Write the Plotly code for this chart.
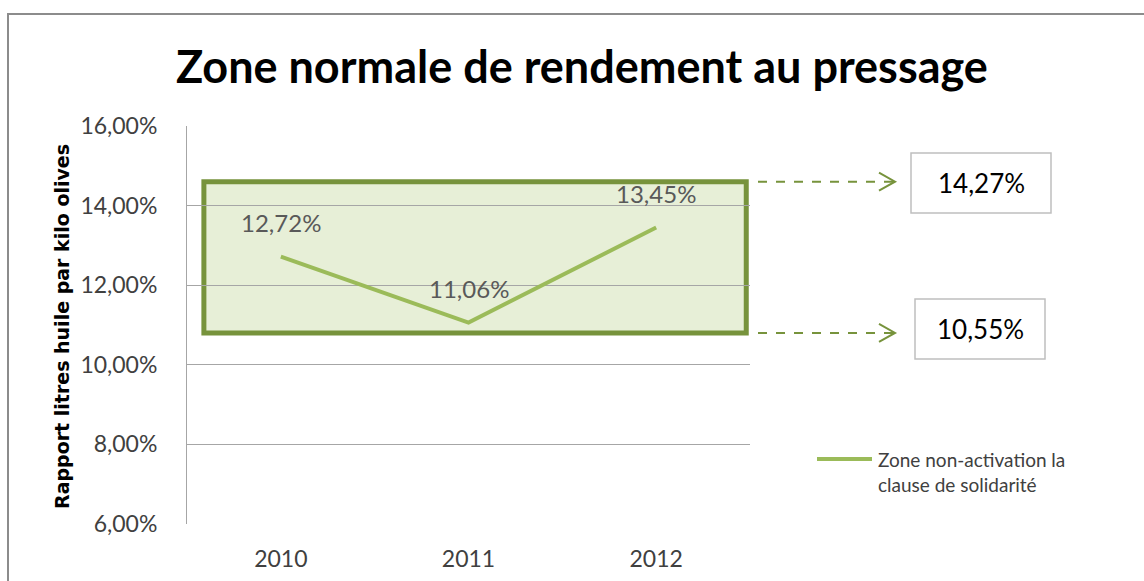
import plotly.graph_objects as go

years = ["2010", "2011", "2012"]
ratios = [12.72, 11.06, 13.45]
ratio_labels = ["12,72%", "11,06%", "13,45%"]
y_ticks = [6, 8, 10, 12, 14, 16]
y_tick_labels = ["6,00%", "8,00%", "10,00%", "12,00%", "14,00%", "16,00%"]
zone_labels = ["14,27%", "10,55%"]
zone_box_y = [14.6, 10.8]  # visual position of the drawn zone edges
series_name = "Zone non-activation la<br>clause de solidarité"

W, H = 1144, 581
L, R, T, B = 187, 750, 126, 524


def px(x):
    return (x - L) / (R - L)


def py(y):
    return (B - y) / (B - T)


FONT = "Lato"
LINE_COLOR = "#9BBB59"
fig = go.Figure()
fig.add_trace(go.Scatter(
    x=[0, 1, 2], y=ratios, mode="lines", name=series_name,
    line=dict(color=LINE_COLOR, width=4), showlegend=False,
))

shapes = []
annotations = []
for i, (v, t) in enumerate(zip(ratios, ratio_labels)):
    annotations.append(dict(xref="x", yref="y", x=i, y=v, text=t, showarrow=False,
                            xanchor="center", yanchor="middle", yshift=34,
                            font=dict(family=FONT, size=24, color="#595959")))

shapes.append(dict(type="rect", xref="paper", yref="paper",
                   x0=px(8), x1=px(1160), y0=py(14), y1=py(600),
                   line=dict(color="#8C8C8C", width=2), layer="below"))
shapes.append(dict(type="rect", xref="x", yref="y",
                   x0=-0.41, x1=2.48, y0=zone_box_y[1], y1=zone_box_y[0],
                   line=dict(color="#77933C", width=5),
                   fillcolor="rgba(215,228,189,0.6)", layer="below"))

arrow_color = "#77933C"
box_px = [(911, 1051, 153, 213), (915, 1045, 299, 359)]
for i, yv in enumerate(zone_box_y):
    ypix = B - (yv - 6) / 10 * (B - T)
    shapes.append(dict(type="line", xref="paper", yref="paper",
                       x0=px(758), x1=px(894), y0=py(ypix), y1=py(ypix),
                       line=dict(color=arrow_color, width=2, dash="dash")))
    shapes.append(dict(type="path", xref="paper", yref="paper",
                       path=f"M {px(879)} {py(ypix-9)} L {px(895)} {py(ypix)} L {px(879)} {py(ypix+9)}",
                       line=dict(color=arrow_color, width=2)))
    x0, x1, y0, y1 = box_px[i]
    shapes.append(dict(type="rect", xref="paper", yref="paper",
                       x0=px(x0), x1=px(x1), y0=py(y0), y1=py(y1),
                       line=dict(color="#BFBFBF", width=1.5), fillcolor="white"))
    annotations.append(dict(xref="paper", yref="paper", x=px((x0 + x1) / 2),
                            y=py((y0 + y1) / 2), xanchor="center", yanchor="middle",
                            text=zone_labels[i], showarrow=False,
                            font=dict(family=FONT, size=26, color="#000000")))

# legend (drawn manually to match the sample length)
shapes.append(dict(type="line", xref="paper", yref="paper",
                   x0=px(817), x1=px(872), y0=py(459), y1=py(459),
                   line=dict(color=LINE_COLOR, width=4)))
annotations.append(dict(xref="paper", yref="paper", x=px(876), y=py(472),
                        xanchor="left", yanchor="middle", align="left",
                        text=series_name, showarrow=False,
                        font=dict(family=FONT, size=19, color="#404040")))

annotations.append(dict(xref="paper", yref="paper", x=px(582), y=py(66),
                        xanchor="center", yanchor="middle",
                        text="<b>Zone normale de rendement au pressage</b>",
                        showarrow=False, font=dict(family=FONT, size=45, color="#000000")))
annotations.append(dict(xref="paper", yref="paper", x=px(62), y=py(327),
                        xanchor="center", yanchor="middle",
                        text="<b>Rapport litres huile par kilo olives</b>", textangle=-90,
                        showarrow=False, font=dict(family="DejaVu Sans", size=19, color="#000000")))

fig.update_layout(
    width=W, height=H,
    margin=dict(l=L, r=W - R, t=T, b=H - B, pad=0),
    paper_bgcolor="white", plot_bgcolor="white",
    shapes=shapes, annotations=annotations,
    showlegend=False,
    xaxis=dict(range=[-0.5, 2.5], tickvals=[0, 1, 2], ticktext=years,
               showgrid=False, zeroline=False, showline=False, automargin=False,
               ticks="outside", ticklen=14, tickcolor="rgba(0,0,0,0)",
               tickfont=dict(family=FONT, size=23, color="#404040")),
    yaxis=dict(range=[6, 16], tickvals=y_ticks, ticktext=y_tick_labels,
               showgrid=True, gridcolor="#A6A6A6", gridwidth=1, automargin=False,
               zeroline=False, showline=True, linecolor="#A6A6A6", linewidth=1,
               ticks="outside", ticklen=24, tickcolor="rgba(0,0,0,0)",
               tickfont=dict(family=FONT, size=23, color="#404040")),
)
fig.write_html("out.html", config={"displayModeBar": False},
               post_script="document.body.style.margin='0';")
